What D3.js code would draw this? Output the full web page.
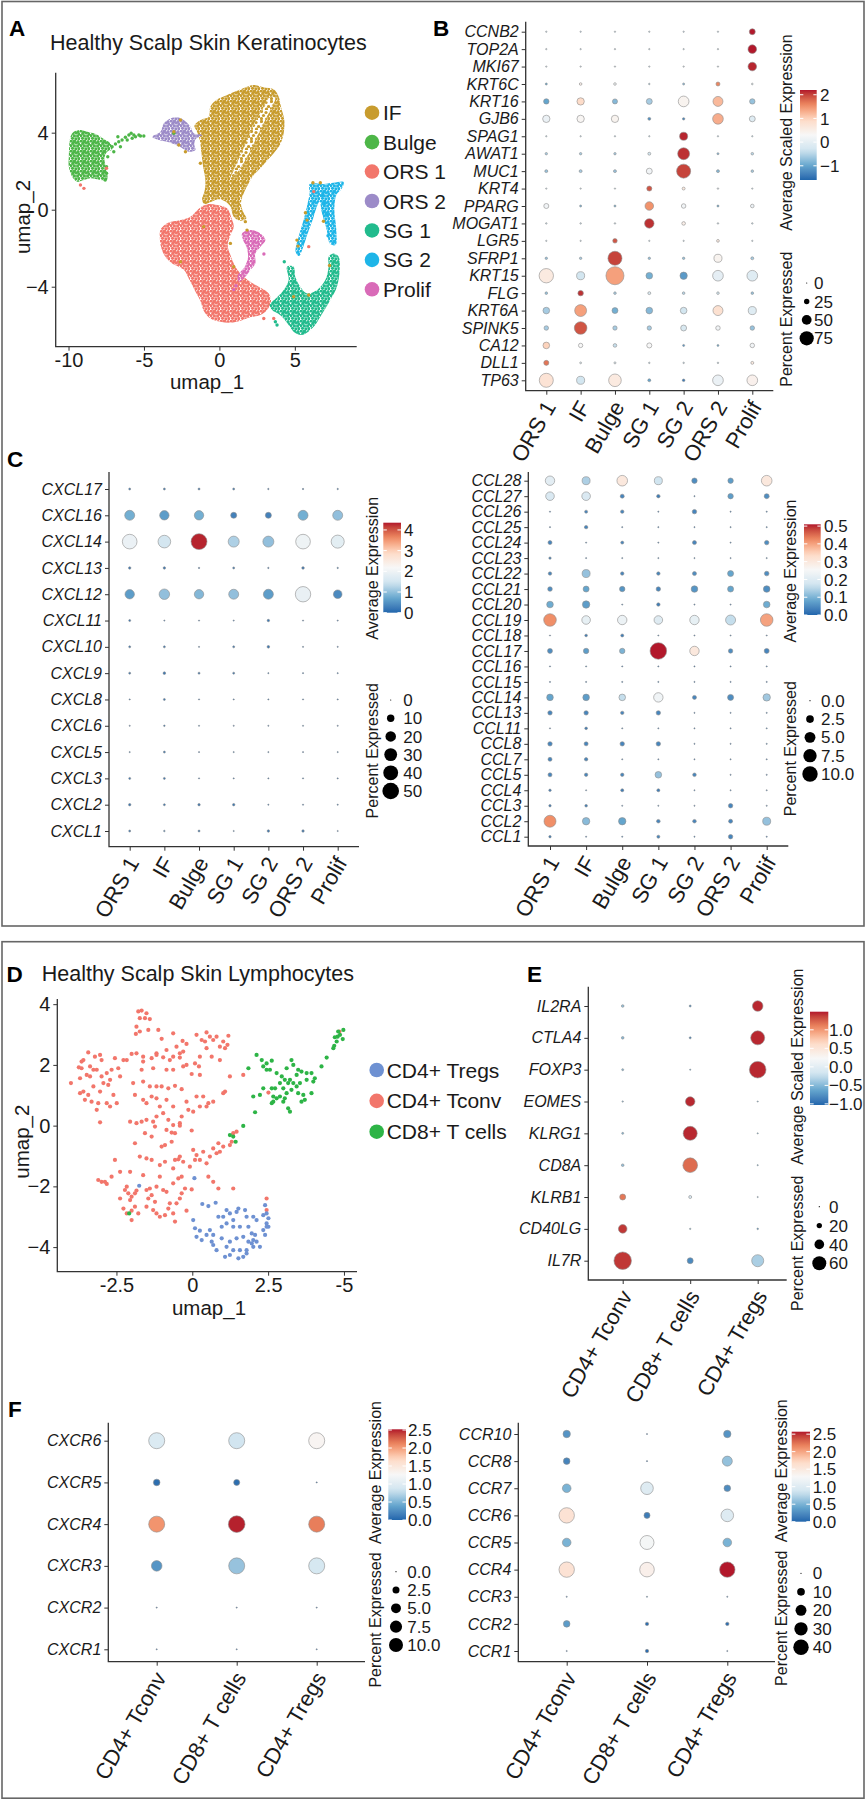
<!DOCTYPE html>
<html lang="en">
<head>
<meta charset="utf-8">
<title>Healthy scalp skin keratinocytes and lymphocytes</title>
<script src="https://d3js.org/d3.v7.min.js"></script>
<style>
  body { margin: 0; background: #fff; }
  svg text { font-family: "Liberation Sans", Arial, sans-serif; }
</style>
</head>
<body>
<script>
// ---------- DATA ----------
// keratinocyte clusters
const kerLegend = ["IF", "Bulge", "ORS 1", "ORS 2", "SG 1", "SG 2", "Prolif"];
const kerGroups = ["ORS 1", "IF", "Bulge", "SG 1", "SG 2", "ORS 2", "Prolif"];
const lymLegend = ["CD4+ Tregs", "CD4+ Tconv", "CD8+ T cells"];
const lymGroups = ["CD4+ Tconv", "CD8+ T cells", "CD4+ Tregs"];

// UMAP tick values / labels
const umapAxTicksX = [-10, -5, 0, 5];
const umapAxTicksY = [-4, 0, 4];
const umapDxTicks = [-2.5, 0, 2.5, 5];
const umapDxLabels = ["-2.5", "0", "2.5", "-5"];
const umapDyTicks = [-4, -2, 0, 2, 4];

// panel A: cluster outlines (umap units) for the dense regions
const ors1Hull = [[-3.91,-1.06],[-3.47,-0.71],[-2.58,-0.54],[-1.92,-0.36],[-1.26,0.12],[-0.71,0.29],[-0.15,0.24],[0.51,0.07],[0.77,-0.36],[0.95,-0.88],[0.73,-1.32],[0.55,-1.84],[0.73,-2.35],[1.06,-2.96],[1.43,-3.34],[1.94,-3.69],[2.60,-4.00],[3.27,-4.35],[3.42,-4.78],[3.16,-5.21],[2.72,-5.47],[2.05,-5.59],[1.39,-5.77],[0.73,-5.87],[0.07,-5.82],[-0.60,-5.65],[-1.04,-5.25],[-1.26,-4.73],[-1.52,-4.35],[-1.77,-3.97],[-2.03,-3.57],[-2.30,-3.17],[-2.69,-2.96],[-3.13,-2.79],[-3.58,-2.44],[-3.86,-1.96],[-3.95,-1.44]];
const ifHull = [[1.83,6.39],[2.27,6.48],[2.94,6.36],[3.60,6.25],[3.93,5.87],[4.08,5.35],[4.30,4.66],[4.26,3.97],[4.04,3.41],[3.60,2.93],[3.16,2.55],[2.72,2.15],[2.27,1.80],[1.94,1.37],[1.61,0.85],[1.43,0.33],[1.57,-0.10],[1.79,-0.45],[1.39,-0.57],[0.95,-0.36],[0.73,0.16],[0.40,0.42],[-0.04,0.54],[-0.49,0.42],[-0.99,0.29],[-1.15,0.54],[-0.99,0.94],[-0.93,1.54],[-1.08,2.23],[-1.19,2.93],[-1.30,3.62],[-1.48,4.05],[-1.66,4.35],[-1.26,4.66],[-0.71,4.83],[-0.60,5.35],[-0.20,5.70],[0.51,5.96],[1.17,6.18]];
const ifChannel = [[3.35,5.85],[2.95,5.35],[2.35,4.55],[1.85,3.65],[1.35,2.75],[0.95,2.05],[0.75,1.65],[1.3,2.05],[1.95,2.9],[2.5,3.8],[3.0,4.6],[3.45,5.3],[3.7,5.8]];
const bulgeHull = [[-9.98,2.75],[-9.87,3.79],[-9.65,4.05],[-9.21,4.14],[-8.76,4.05],[-8.32,3.97],[-7.88,3.79],[-7.55,3.62],[-7.22,3.45],[-7.11,3.13],[-7.44,3.01],[-7.62,2.67],[-7.48,2.06],[-7.44,1.54],[-7.88,1.54],[-8.54,1.63],[-8.98,1.54],[-9.43,1.45],[-9.76,1.71],[-9.98,2.23]];
const ors2Hull = [[-4.46,3.79],[-3.91,4.05],[-3.69,4.48],[-3.25,4.74],[-2.80,4.80],[-2.36,4.66],[-1.92,4.31],[-1.70,3.97],[-1.15,3.88],[-1.59,3.65],[-1.66,3.36],[-1.59,3.10],[-2.03,3.01],[-2.47,3.19],[-3.02,3.41],[-3.47,3.53],[-4.13,3.65]];
const sg1Hull = [[4.48,-2.96],[4.92,-2.96],[5.03,-3.48],[5.36,-4.00],[5.81,-4.35],[6.47,-4.17],[7.02,-3.65],[7.24,-2.96],[7.24,-2.44],[7.57,-2.27],[7.90,-2.44],[7.97,-3.13],[7.79,-4.00],[7.35,-4.69],[6.69,-5.56],[6.25,-6.08],[5.47,-6.51],[4.92,-6.34],[4.59,-5.99],[4.26,-5.65],[3.93,-5.42],[3.49,-5.21],[3.33,-4.95],[3.82,-4.55],[4.26,-4.17],[4.59,-3.65]];
const sg2Hull = [[5.98,1.34],[6.91,1.34],[7.57,1.40],[8.23,1.44],[8.12,1.11],[7.75,0.76],[7.62,-0.02],[7.75,-1.05],[7.70,-1.83],[7.35,-1.78],[7.09,-0.97],[6.80,-0.19],[6.64,0.42],[6.42,0.07],[6.18,-0.54],[5.85,-1.23],[5.52,-2.01],[5.28,-2.41],[5.05,-2.18],[5.25,-1.40],[5.58,-0.54],[5.85,0.33],[5.98,0.85]];
const prolifHull = [[1.50,-1.23],[2.05,-1.05],[2.72,-1.23],[3.05,-1.57],[2.72,-1.92],[2.38,-2.27],[2.38,-2.79],[2.05,-3.13],[1.72,-3.48],[1.28,-3.74],[1.21,-3.44],[1.68,-2.96],[1.90,-2.44],[1.79,-1.92],[1.57,-1.57]];

// panel A: sparse cells outside the dense regions
const bulgePts = [[-7.11,3.27],[-6.89,3.41],[-6.67,3.53],[-6.73,3.79],[-6.45,3.62],[-6.23,3.76],[-6.00,3.88],[-5.85,3.97],[-5.67,3.88],[-5.56,3.79],[-5.34,3.88],[-5.23,3.83],[-5.01,3.83],[-6.11,3.62],[-5.78,3.71],[-6.56,3.27],[-7.00,3.01],[-7.40,2.75],[-7.48,2.23],[-7.48,1.89],[-7.57,1.54],[-3.02,3.97]];
const ors1Pts = [[-9.21,1.28],[-8.98,1.11],[-7.48,2.15],[6.25,0.94],[5.92,-1.92],[2.94,-5.65],[3.60,-5.65]];
const ifPts = [[6.69,1.40],[6.20,1.40],[5.70,-0.16],[5.81,-0.54],[5.14,-1.58],[5.21,-1.89],[-1.04,-0.88],[-2.58,-2.70],[0.95,-2.96],[0.73,-1.75],[1.72,-0.62],[1.83,-1.06],[4.92,-4.52],[5.92,-4.43],[-1.26,2.41],[-2.58,4.66],[-2.69,3.36],[-2.25,3.01],[-3.02,4.05],[6.90,-0.60],[7.30,-2.90]];
const sg1Pts = [[3.71,-5.82],[3.82,-5.99],[4.30,-2.70]];
const sg2Pts = [[6.95,0.30],[7.10,-0.25],[7.20,-1.35],[6.85,0.75]];
const prolifPts = [[1.10,-3.95],[0.95,-4.15],[2.95,-2.30]];

// panel D cells (umap units)
const tconvPts = [[-4.00,1.40],[-3.74,1.92],[-3.65,2.11],[-3.70,1.56],[-3.59,2.16],[-3.43,2.41],[-3.21,2.27],[-3.04,2.33],[-2.99,2.16],[-3.15,1.84],[-3.37,1.95],[-3.48,1.67],[-3.70,1.07],[-3.54,0.85],[-3.43,1.01],[-3.26,1.29],[-3.04,1.12],[-3.10,0.74],[-3.15,0.52],[-3.04,0.11],[-2.93,1.40],[-2.77,1.34],[-2.71,1.51],[-2.99,1.62],[-2.66,1.84],[-2.60,1.01],[-2.49,0.74],[-2.82,0.74],[-2.71,0.63],[-2.55,2.22],[-2.27,2.16],[-2.38,1.62],[-2.44,1.89],[-3.32,0.79],[-3.59,1.12],[-3.65,1.89],[-3.37,1.62],[-2.82,1.73],[-3.26,1.84],
[-1.78,3.76],[-1.67,3.79],[-1.51,3.70],[-1.73,3.54],[-1.56,3.54],[-1.84,3.26],[-1.73,3.10],[-1.86,3.02],[-1.40,3.51],[-1.45,3.15],[-1.12,3.15],[-1.01,2.86],[-0.63,3.04],[-0.32,2.79],[-0.19,2.69],[-1.18,2.38],[-0.85,2.49],[-0.63,2.27],[-0.41,2.38],[-0.30,2.44],[-0.52,2.60],
[0.14,2.99],[0.31,2.82],[0.42,2.77],[0.47,3.07],[0.58,2.93],[0.69,2.82],[0.80,2.93],[0.91,2.60],[1.02,2.77],[1.19,2.96],[1.08,2.55],[1.16,2.66],[0.47,2.55],[0.64,2.27],[0.25,2.27],[0.22,1.95],[0.09,2.05],[-0.19,2.00],[-0.02,1.70],[0.25,1.67],[1.24,1.62],[0.91,2.16],
[-2.16,2.16],[-2.00,2.36],[-1.84,2.38],[-1.62,2.27],[-1.34,2.22],[-1.18,2.33],[-0.96,2.25],[-0.74,2.16],[-0.41,2.24],[-1.62,2.11],[-1.67,1.84],[-1.29,1.89],[-0.85,1.84],[-0.63,1.84],[-0.30,1.95],[-1.95,1.40],[-1.89,1.01],[-1.62,1.45],[-1.40,1.29],[-1.18,1.29],[-1.01,1.29],[-0.79,1.23],[-0.57,1.31],[-0.35,1.20],[-1.62,0.85],[-1.51,0.74],[-1.34,0.96],[-1.18,0.90],[-1.07,0.63],[-0.85,0.85],[-0.63,0.63],[-0.19,0.79],[0.14,0.96],[0.25,0.63],[0.47,0.63],[0.53,0.74],[0.36,0.96],[0.69,0.79],[0.03,0.46],[-0.13,0.52],[-0.35,0.30],[-0.41,0.08],[-0.63,0.02],[-0.79,0.19],[-0.96,0.41],[-1.18,0.30],[-1.29,0.13],[-1.51,0.19],[-1.67,0.13],[-1.84,0.08],[-2.05,0.13],[-1.23,-0.03],[-0.85,-0.14],[-0.68,-0.23],[-0.57,-0.25],[-0.41,0.00],[-0.02,-0.16],[-1.56,-0.25],[-1.34,-0.36],[-1.01,-0.69],[-0.90,-0.64],[-0.68,-0.53],[-1.89,-0.58],[-1.73,-1.02],[-1.51,-1.08],[-1.34,-1.13],[-1.07,-1.30],[-0.90,-1.19],[-0.57,-1.13],[-0.46,-1.11],[-0.41,-1.02],[0.03,-0.80],[0.36,-0.86],[0.58,-1.02],[0.80,-0.91],[0.91,-0.86],[1.02,-0.69],[1.24,-0.64],[1.30,-0.53],[0.86,-0.58],[0.69,-0.75],[0.25,-1.13],[0.47,-1.24],[0.14,-0.97],[-0.63,-1.41],[0.09,-1.13],[1.68,1.67],[1.02,1.07],[1.08,1.12],
[-2.55,-1.13],[-3.10,-1.79],[-2.99,-1.85],[-2.88,-1.85],[-2.82,-1.92],[-2.66,-1.68],[-2.38,-1.52],[-2.05,-1.52],[-1.62,-1.63],[-2.38,-2.40],[-2.22,-2.12],[-2.16,-2.01],[-2.11,-2.23],[-2.05,-2.45],[-2.00,-2.34],[-1.89,-2.23],[-1.84,-2.14],[-2.27,-2.73],[-2.16,-2.89],[-2.00,-2.80],[-1.89,-2.67],[-2.00,-3.11],[-1.78,-2.89],[-1.51,-2.12],[-1.40,-2.07],[-1.45,-2.40],[-1.51,-2.67],[-1.29,-2.78],[-1.18,-2.89],[-1.23,-2.51],[-0.96,-2.12],[-0.85,-2.18],[-0.74,-2.56],[-0.79,-2.73],[-1.07,-3.00],[-0.90,-2.95],[-0.57,-3.16],[-0.63,-2.89],[-0.52,-2.56],[-0.41,-2.40],[-0.35,-2.23],[-0.24,-2.07],[-0.63,-1.90],[-0.46,-1.74],[-0.35,-1.68],[-1.07,-1.68],[-1.18,-2.01],[-1.34,-2.29],[-0.19,-2.80],[-0.02,-2.10],[0.53,-1.68],[0.69,-1.85],[0.86,-2.07],[1.35,-2.07],[2.45,-2.40],[2.45,-2.78],[-0.08,-1.35],[-0.30,-1.19],
[1.35,-0.25],[1.46,-0.20],[2.51,1.09],[4.85,3.10]];
const cd8Pts = [[2.12,2.33],[2.29,2.16],[2.34,1.95],[2.45,2.05],[2.62,2.14],[2.56,1.84],[2.78,1.73],[2.95,1.62],[3.11,1.89],[3.27,2.16],[3.33,2.00],[3.49,1.84],[3.60,1.78],[3.77,1.73],[3.93,1.73],[4.04,1.56],[3.99,1.45],[3.77,1.51],[3.55,1.40],[3.44,1.29],[3.33,1.40],[3.22,1.51],[3.05,1.51],[2.89,1.40],[2.73,1.23],[2.62,1.23],[2.34,1.23],[2.01,0.96],[2.23,1.01],[2.67,0.96],[2.78,0.90],[2.89,0.96],[3.05,0.90],[3.11,1.07],[3.27,1.18],[3.49,1.07],[3.66,1.01],[3.71,0.85],[3.60,0.79],[3.93,1.07],[2.67,0.79],[2.62,0.74],[3.00,0.79],[3.16,0.57],[3.22,0.46],[1.85,1.89],[2.07,0.44],[1.68,-0.01],[1.43,-0.53],[1.24,-0.31],[1.35,-0.36],[4.26,1.95],[4.43,2.24],[4.65,2.55],[4.68,2.63],[4.76,2.77],[4.79,2.93],[4.81,3.10],[4.87,2.99],[4.98,3.15],[4.96,2.85],[4.70,2.91],[-2.08,-2.89],[2.45,1.84],[3.00,1.23],[3.16,1.40],[3.44,1.67]];
const tregPts = [[-1.75,-1.98],[0.07,-1.73],[0.33,-2.58],[0.53,-2.65],[0.77,-2.54],[0.86,-3.00],[1.02,-3.00],[1.13,-2.78],[1.24,-2.89],[1.35,-3.11],[1.46,-2.84],[1.52,-2.73],[1.74,-2.78],[1.79,-3.00],[2.01,-3.00],[2.12,-3.11],[2.34,-2.95],[2.40,-2.62],[2.45,-2.89],[2.51,-3.05],[0.09,-3.38],[0.14,-3.66],[0.58,-3.44],[0.69,-3.60],[0.97,-3.33],[1.13,-3.22],[1.35,-3.33],[1.57,-3.33],[1.85,-3.33],[1.96,-3.55],[2.07,-3.60],[2.34,-3.44],[2.45,-3.33],[0.64,-3.82],[0.69,-3.93],[0.97,-3.71],[1.24,-3.82],[1.46,-3.71],[1.68,-3.66],[1.85,-3.82],[2.01,-3.77],[2.01,-3.99],[2.23,-3.99],[0.80,-4.10],[1.13,-3.99],[1.35,-4.10],[1.57,-4.10],[1.79,-4.21],[1.08,-4.32],[1.24,-4.26],[1.52,-4.37],[1.68,-4.32],[1.79,-4.10],[1.96,-3.88],[2.12,-3.82],[0.31,-3.77],[0.47,-3.60],[0.25,-3.46],[0.03,-3.11],[2.45,-3.22],[2.51,-3.33],[2.40,-3.60]];

// panel B: marker genes (percent expressed, average scaled expression)
const bGenes = ["CCNB2","TOP2A","MKI67","KRT6C","KRT16","GJB6","SPAG1","AWAT1","MUC1","KRT4","PPARG","MOGAT1","LGR5","SFRP1","KRT15","FLG","KRT6A","SPINK5","CA12","DLL1","TP63"];
const bPct = [[2,2,2,2,2,2,28],[2,2,2,2,2,2,43],[2,2,2,2,2,2,43],[6,9,9,3,6,17,4],[25,36,23,28,55,51,25],[36,36,36,11,8,55,28],[2,2,2,2,40,2,2],[8,8,8,11,62,6,9],[11,11,11,28,74,11,9],[2,2,2,23,11,3,2],[23,6,6,43,20,6,15],[3,3,3,48,15,3,3],[2,2,20,2,2,10,2],[8,8,74,8,8,40,11],[76,40,97,32,36,55,55],[9,25,9,11,9,9,9],[32,62,28,32,32,51,40],[20,66,19,19,28,20,20],[32,19,15,23,6,5,20],[23,5,6,3,3,3,11],[74,40,66,11,9,55,55]];
const bAvg = [[-0.4,-0.4,-0.4,-0.4,-0.4,-0.4,2.2],[-0.4,-0.4,-0.4,-0.4,-0.4,-0.4,2.2],[-0.4,-0.4,-0.4,-0.4,-0.4,-0.4,2.15],[-1.0,0.5,0.2,-0.6,-0.8,1.6,-0.2],[-1.0,0.9,-0.8,-0.6,0.4,1.2,-0.7],[0.1,0.35,0.4,-1.2,-1.3,1.3,-0.1],[-0.4,-0.4,-0.4,-0.4,2.15,-0.4,-0.4],[-0.6,-0.6,-0.6,-0.3,2.1,-0.8,-0.5],[-0.7,-0.6,-0.7,0.2,2.0,-0.8,-0.6],[-0.4,-0.4,-0.4,1.9,0.6,-0.2,-0.4],[0.2,-0.9,-0.9,1.5,0.2,-1.0,0.1],[-0.4,-0.4,-0.4,2.1,0.5,-0.4,-0.4],[-0.4,-0.4,1.9,-0.4,-0.4,0.6,-0.4],[-0.7,-0.6,2.0,-0.7,-0.7,0.4,-0.6],[0.6,-0.3,1.4,-0.9,-1.1,0.0,-0.1],[-0.7,2.1,-0.6,-0.2,-0.5,-0.3,-0.7],[-0.6,1.4,-0.9,-0.8,-0.3,0.8,-0.1],[-0.6,1.9,-0.6,-0.6,-0.2,0.2,-0.7],[1.0,0.3,-0.4,0.3,-1.1,-1.0,0.2],[1.7,-0.2,-0.2,-0.4,-0.4,-0.4,0.6],[0.75,-0.3,0.6,-1.0,-1.4,0.1,0.45]];

// panel C left: CXCL chemokines
const cxclGenes = ["CXCL17","CXCL16","CXCL14","CXCL13","CXCL12","CXCL11","CXCL10","CXCL9","CXCL8","CXCL6","CXCL5","CXCL3","CXCL2","CXCL1"];
const cxclPct = [[0.73,0.73,0.73,0.73,0.36,0.36,0.36],[18,16,16,6.5,6.5,18,18],[39,29,46,22,22,39,31],[1.05,1.05,0.36,0.73,0.36,1.2,0.36],[16,20,16,18,18,43,13.4],[0.73,0.26,0.26,0.26,1.05,0.26,0.26],[0.73,0.73,0.26,0.73,1.2,0.26,0.26],[0.73,1.2,0.73,0.73,0.26,0.26,0.26],[0.26,0.73,0.26,0.26,0.26,0.26,0.26],[0.26,0.46,0.26,0.26,0.26,0.26,0.26],[0.26,0.73,0.26,0.26,0.26,0.26,0.26],[0.73,0.73,0.26,0.26,0.26,0.26,0.26],[1.05,0.73,1.05,1.05,0.26,0.26,0.26],[0.73,0.46,0.73,0.26,1.05,1.05,0.26]];
const cxclAvg = [[0.2,0.2,0.2,0.2,0.1,0.1,0.1],[0.8,0.6,0.8,0.3,0.3,0.8,1.0],[1.95,1.5,4.3,1.2,1.0,2.0,1.8],[0.2,0.2,0.1,0.2,0.1,0.2,0.1],[0.6,1.0,0.9,1.0,0.6,1.9,0.4],[0.2,0.1,0.1,0.1,0.2,0.1,0.1],[0.2,0.2,0.1,0.2,0.2,0.1,0.1],[0.2,0.2,0.2,0.2,0.1,0.1,0.1],[0.1,0.2,0.1,0.1,0.1,0.1,0.1],[0.1,0.1,0.1,0.1,0.1,0.1,0.1],[0.1,0.2,0.1,0.1,0.1,0.1,0.1],[0.2,0.2,0.1,0.1,0.1,0.1,0.1],[0.2,0.2,0.2,0.2,0.1,0.1,0.1],[0.2,0.2,0.2,0.1,0.2,0.2,0.1]];

// panel C right: CCL chemokines
const cclGenes = ["CCL28","CCL27","CCL26","CCL25","CCL24","CCL23","CCL22","CCL21","CCL20","CCL19","CCL18","CCL17","CCL16","CCL15","CCL14","CCL13","CCL11","CCL8","CCL7","CCL5","CCL4","CCL3","CCL2","CCL1"];
const cclPct = [[3.73,2.7,4.74,2.7,1.23,1.23,4.74],[3.12,3.12,0.67,0.49,0.06,1.23,1.05],[0.06,0.38,0.49,0.06,0.82,0.06,0.06],[0.06,0.49,0.06,0.06,0.06,0.06,0.06],[0.67,0.06,0.38,0.06,0.67,0.06,0.82],[0.24,0.06,0.06,0.06,0.06,0.06,0.06],[0.49,2.7,0.49,0.49,0.67,1.52,0.89],[0.89,1.52,1.23,0.82,1.84,1.52,1.84],[1.84,2.31,0.06,0.49,0.06,0.06,1.84],[6.69,3.12,3.73,3.12,3.73,4.22,6.69],[0.06,0.29,0.38,0.06,0.06,0.06,0.06],[1.05,1.23,1.23,11.6,3.73,0.82,1.05],[0.06,0.06,0.06,0.06,0.06,0.06,0.06],[0.06,0.06,0.06,0.06,0.06,0.06,0.06],[1.84,1.84,1.84,3.73,0.67,1.52,2.31],[0.82,0.82,0.49,0.82,0.06,0.06,0.06],[0.06,0.29,0.06,0.06,0.06,0.06,0.06],[0.82,0.67,0.82,0.82,0.06,0.06,0.06],[0.67,0.49,0.06,0.06,0.06,0.06,0.06],[0.67,0.49,0.49,1.84,0.55,0.06,0.06],[0.24,0.06,0.38,0.38,0.06,0.06,0.06],[0.24,0.29,0.06,0.06,0.06,0.82,0.06],[6.07,2.31,2.31,0.55,0.55,0.67,2.7],[0.24,0.06,0.06,0.38,0.06,0.82,0.06]];
const cclAvg = [[0.21,0.14,0.3,0.17,0.05,0.07,0.3],[0.19,0.19,0.04,0.03,0.02,0.07,0.05],[0.02,0.04,0.04,0.02,0.04,0.02,0.02],[0.02,0.04,0.02,0.02,0.02,0.02,0.02],[0.04,0.02,0.04,0.02,0.04,0.02,0.05],[0.03,0.02,0.02,0.02,0.02,0.02,0.02],[0.04,0.12,0.04,0.04,0.05,0.08,0.05],[0.05,0.08,0.06,0.04,0.06,0.08,0.05],[0.09,0.07,0.02,0.03,0.02,0.02,0.09],[0.42,0.22,0.23,0.2,0.22,0.16,0.4],[0.02,0.03,0.03,0.02,0.02,0.02,0.02],[0.05,0.07,0.1,0.51,0.3,0.05,0.04],[0.02,0.02,0.02,0.02,0.02,0.02,0.02],[0.02,0.02,0.02,0.02,0.02,0.02,0.02],[0.08,0.07,0.16,0.24,0.04,0.05,0.13],[0.04,0.04,0.04,0.04,0.02,0.02,0.02],[0.02,0.03,0.02,0.02,0.02,0.02,0.02],[0.04,0.04,0.04,0.04,0.02,0.02,0.02],[0.04,0.04,0.02,0.02,0.02,0.02,0.02],[0.04,0.04,0.04,0.12,0.04,0.02,0.02],[0.03,0.02,0.03,0.03,0.02,0.02,0.02],[0.03,0.03,0.02,0.02,0.02,0.04,0.02],[0.42,0.11,0.08,0.04,0.04,0.04,0.12],[0.03,0.02,0.02,0.04,0.02,0.04,0.02]];

// panel E: lymphocyte markers
const eGenes = ["IL2RA","CTLA4","FOXP3","EOMES","KLRG1","CD8A","KLRB1","CD40LG","IL7R"];
const ePct = [[7.4,4.6,44],[7.4,4.6,60],[4.6,0.9,72],[1.8,39,0],[4.6,60,0.9],[7.4,63,0.9],[23,9.2,0.9],[35,1.8,2.8],[76,23,51]];
const eAvg = [[-0.45,-0.8,1.45],[-0.5,-0.85,1.45],[-0.5,-0.7,1.45],[-0.5,1.45,-0.6],[-0.5,1.45,-0.6],[-0.45,1.2,-0.6],[1.15,-0.1,-0.5],[1.4,-0.6,-0.7],[1.4,-0.8,-0.35]];

// panel F: chemokine receptors
const cxcrGenes = ["CXCR6","CXCR5","CXCR4","CXCR3","CXCR2","CXCR1"];
const cxcrPct = [[13.1,13.1,13.1],[2.2,1.84,0.05],[13.1,14.1,13.1],[5.7,13.1,13.1],[0.05,0.05,0.05],[0.05,0.05,0.05]];
const cxcrAvg = [[0.95,0.85,1.3],[0.05,0.05,0.05],[2.05,2.5,2.15],[0.3,0.6,0.9],[0.05,0.05,0.05],[0.05,0.05,0.05]];
const ccrGenes = ["CCR10","CCR8","CCR7","CCR6","CCR5","CCR4","CCR3","CCR2","CCR1"];
const ccrPct = [[9.2,0.17,9.2],[7.3,0.17,16.9],[12.5,26.8,7.3],[40,6.1,26.8],[12.5,33,12.5],[40,36,40],[0.17,0.17,0.17],[7.3,1.95,1.95],[0.17,1.95,0.17]];
const ccrAvg = [[0.3,0.05,0.3],[0.2,0.05,0.6],[0.5,1.0,0.25],[1.6,0.15,1.0],[0.5,1.25,0.5],[1.6,1.4,2.57],[0.05,0.05,0.05],[0.35,0.05,0.05],[0.05,0.05,0.05]];

// legend values
const bSizeVals = [0, 25, 50, 75];
const cxclSizeVals = [0, 10, 20, 30, 40, 50];
const cclSizeVals = [0, 2.5, 5, 7.5, 10];
const eSizeVals = [0, 20, 40, 60];
const cxcrSizeVals = [0, 2.5, 5, 7.5, 10];
const ccrSizeVals = [0, 10, 20, 30, 40];

// ---------- STYLE ----------
const kerColor = {"IF":"#C89C2E","Bulge":"#4DB648","ORS 1":"#F2766B","ORS 2":"#9C8BC8","SG 1":"#22BB8D","SG 2":"#1EB5E8","Prolif":"#D96BB8"};
const lymColor = {"CD4+ Tregs":"#6E91D2","CD4+ Tconv":"#F2766B","CD8+ T cells":"#2DB446"};
const rdbu = ["#2166AC","#67A9CF","#D1E5F0","#F7F7F7","#FDDBC7","#EF8A62","#B2182B"];
const ink = "#1a1a1a";

const svg = d3.select("body").append("svg").attr("width", 866).attr("height", 1800);
const defs = svg.append("defs");
svg.append("rect").attr("width", 866).attr("height", 1800).attr("fill", "#fff");

// frames
svg.append("rect").attr("x", 2).attr("y", 1.5).attr("width", 862).attr("height", 924.5)
  .attr("fill", "none").attr("stroke", "#666").attr("stroke-width", 1.6);
svg.append("rect").attr("x", 2).attr("y", 941.7).attr("width", 862).attr("height", 856.5)
  .attr("fill", "none").attr("stroke", "#666").attr("stroke-width", 1.6);

// panel letters
[["A", 9, 36], ["B", 433, 36], ["C", 7, 466.7], ["D", 6.5, 981.7], ["E", 527, 981.7], ["F", 8, 1416.7]]
  .forEach(([t, x, y]) => svg.append("text").attr("x", x).attr("y", y).text(t)
    .attr("font-size", 22.5).attr("font-weight", "bold").attr("fill", "#000"));

function colorScale(lo, hi) {
  return d3.scaleLinear().domain(d3.range(7).map(i => lo + i * (hi - lo) / 6))
    .range(rdbu).interpolate(d3.interpolateLab).clamp(true);
}
const minus = s => String(s).replace("-", "\u2212");

// ---------- UMAP helper ----------
function umapAxes(x, y, o) {
  const g = svg.append("g");
  const ya = g.append("g").attr("transform", `translate(${o.x0},0)`)
    .call(d3.axisLeft(y).tickValues(o.yt).tickSize(4).tickPadding(3));
  const xa = g.append("g").attr("transform", `translate(0,${o.y0})`)
    .call(d3.axisBottom(x).tickValues(o.xt).tickSize(4).tickPadding(2).tickFormat((d, i) => o.xl ? o.xl[i] : d));
  [ya, xa].forEach(a => {
    a.select(".domain").remove();
    a.selectAll("text").attr("font-size", 20).attr("fill", ink);
    a.selectAll("line").attr("stroke", "#333");
  });
  g.append("path").attr("d", `M${o.x0},${o.top}V${o.y0}H${o.right}`)
    .attr("fill", "none").attr("stroke", "#333").attr("stroke-width", 1.3);
  g.append("text").attr("x", o.lx).attr("y", o.ly).attr("text-anchor", "middle")
    .attr("font-size", 20.5).attr("fill", ink).text("umap_1");
  g.append("text").attr("transform", `translate(${o.tx},${o.ty}) rotate(-90)`).attr("text-anchor", "middle")
    .attr("font-size", 20.5).attr("fill", ink).text("umap_2");
}

// ---------- PANEL A ----------
const xA = d3.scaleLinear().domain([-10.85, 9.1]).range([55.7, 356.7]);
const yA = d3.scaleLinear().domain([-7.1, 7.1]).range([346.4, 73]);
svg.append("text").attr("x", 50).attr("y", 50).attr("font-size", 21.5).attr("fill", ink)
  .text("Healthy Scalp Skin Keratinocytes");
umapAxes(xA, yA, {x0: 55.7, y0: 346.7, top: 72.7, right: 356.7, xt: umapAxTicksX, yt: umapAxTicksY,
  lx: 207, ly: 389, tx: 29.5, ty: 217});

// speckled fills standing in for the dense point clouds
const tile = [[1.2,1.0],[4.6,0.8],[8.1,1.6],[2.8,3.4],[6.4,3.0],[9.4,4.2],[0.9,5.6],[4.4,5.9],[7.6,6.1],[2.5,8.3],[5.9,8.8],[9.0,8.6],[3.9,2.0]];
const tileSparse = [[1.5,1.5],[6.0,2.5],[3.5,5.5],[8.5,6.5],[1.5,8.5],[6.5,9.0]];
kerLegend.forEach((k, i) => {
  [["pat", tile], ["spa", tileSparse]].forEach(([pre, t]) => {
    const p = defs.append("pattern").attr("id", pre + i).attr("patternUnits", "userSpaceOnUse")
      .attr("width", 10).attr("height", 10);
    p.selectAll("circle").data(t).join("circle")
      .attr("cx", d => d[0]).attr("cy", d => d[1]).attr("r", 1.6).attr("fill", kerColor[k]);
  });
});
const hullLine = d3.line().x(d => xA(d[0])).y(d => yA(d[1])).curve(d3.curveCatmullRomClosed);
const hulls = [["ORS 1", ors1Hull], ["IF", ifHull], ["Bulge", bulgeHull], ["ORS 2", ors2Hull],
  ["SG 1", sg1Hull], ["SG 2", sg2Hull], ["Prolif", prolifHull]];
const gA = svg.append("g");
hulls.forEach(([k, h]) => {
  gA.append("path").attr("d", hullLine(h)).attr("fill", `url(#pat${kerLegend.indexOf(k)})`);
  if (k === "IF") {
    gA.append("path").attr("d", hullLine(ifChannel)).attr("fill", "#fff");
    gA.append("path").attr("d", hullLine(ifChannel)).attr("fill", "url(#spa0)");
  }
});
[["Bulge", bulgePts], ["ORS 1", ors1Pts], ["IF", ifPts], ["SG 1", sg1Pts], ["SG 2", sg2Pts], ["Prolif", prolifPts]]
  .forEach(([k, pts]) => {
    gA.append("g").selectAll("circle").data(pts).join("circle")
      .attr("cx", d => xA(d[0])).attr("cy", d => yA(d[1])).attr("r", 1.7).attr("fill", kerColor[k]);
  });
// legend A
const legA = d3.scalePoint().domain(kerLegend).range([112.7, 289.3]);
kerLegend.forEach(k => {
  svg.append("circle").attr("cx", 372).attr("cy", legA(k)).attr("r", 7.3).attr("fill", kerColor[k]);
  svg.append("text").attr("x", 383).attr("y", legA(k)).attr("dy", "0.36em").attr("font-size", 21)
    .attr("fill", ink).text(k);
});

// ---------- DOT PLOT HELPERS ----------
function dotPlot(p) {
  const y = d3.scalePoint().domain(p.genes).range(p.rows);
  const x = d3.scalePoint().domain(p.groups).range(p.cols);
  const g = svg.append("g");
  const ya = g.append("g").attr("transform", `translate(${p.ax},0)`)
    .call(d3.axisLeft(y).tickSize(4).tickPadding(3));
  ya.select(".domain").remove();
  ya.selectAll("text").attr("font-size", 16).attr("font-style", "italic").attr("fill", ink);
  const xa = g.append("g").attr("transform", `translate(0,${p.ay})`)
    .call(d3.axisBottom(x).tickSize(4));
  xa.select(".domain").remove();
  xa.selectAll("text").attr("font-size", 22).attr("fill", ink).attr("text-anchor", "end")
    .attr("x", 0).attr("y", 0).attr("dy", "0.72em").attr("transform", "translate(-4,8) rotate(-60)");
  g.selectAll(".tick line").attr("stroke", "#333");
  g.append("path").attr("d", `M${p.ax},${p.top}V${p.ay}H${p.right}`)
    .attr("fill", "none").attr("stroke", "#333").attr("stroke-width", 1.3);
  const cells = p.genes.flatMap((gene, i) => p.groups.map((grp, j) =>
    ({gene, grp, pct: p.pct[i][j], avg: p.avg[i][j]})));
  g.append("g").selectAll("circle").data(cells).join("circle")
    .attr("cx", d => x(d.grp)).attr("cy", d => y(d.gene))
    .attr("r", d => Math.max(0.6, p.r(d.pct)))
    .attr("fill", d => p.color(d.avg)).attr("stroke", "#8d8d8d").attr("stroke-width", 0.6);
}

let gradId = 0;
function colorBar(p) {
  const id = "grad" + (gradId++);
  const lg = defs.append("linearGradient").attr("id", id)
    .attr("x1", 0).attr("y1", 1).attr("x2", 0).attr("y2", 0);
  d3.range(21).forEach(i => lg.append("stop").attr("offset", i / 20)
    .attr("stop-color", p.color(p.lo + i / 20 * (p.hi - p.lo))));
  const y = d3.scaleLinear().domain([p.lo, p.hi]).range([p.y1, p.y0]);
  svg.append("rect").attr("x", p.x).attr("y", p.y0).attr("width", p.w).attr("height", p.y1 - p.y0)
    .attr("fill", `url(#${id})`);
  p.ticks.forEach(t => {
    [[p.x, p.x + p.w / 5], [p.x + p.w * 4 / 5, p.x + p.w]].forEach(([a, b]) =>
      svg.append("line").attr("x1", a).attr("x2", b).attr("y1", y(t)).attr("y2", y(t))
        .attr("stroke", "#fff").attr("stroke-width", 1));
    svg.append("text").attr("x", p.lx).attr("y", y(t)).attr("dy", "0.36em").attr("font-size", 17)
      .attr("fill", ink).text(minus(p.fmt(t)));
  });
}

function sizeLegend(p) {
  const y = d3.scalePoint().domain(p.values).range(p.ys);
  p.values.forEach(v => {
    svg.append("circle").attr("cx", p.cx).attr("cy", y(v)).attr("r", Math.max(0.6, p.r(v))).attr("fill", "#000");
    svg.append("text").attr("x", p.lx).attr("y", y(v)).attr("dy", "0.36em").attr("font-size", 17)
      .attr("fill", ink).text(p.fmt(v));
  });
}

function vTitle(t, x, cy) {
  svg.append("text").attr("transform", `translate(${x},${cy}) rotate(-90)`).attr("text-anchor", "middle")
    .attr("font-size", 16).attr("fill", ink).text(t);
}
const f1 = d3.format(".1f");
const f0 = d => String(d);

// ---------- PANEL B ----------
const rB = d3.scaleLinear().domain([0, 100]).range([0.5, 9.3]);
const cB = colorScale(-1.6, 2.2);
dotPlot({genes: bGenes, groups: kerGroups, pct: bPct, avg: bAvg, ax: 525.7, ay: 390.7, top: 21.7, right: 773.3,
  rows: [31.7, 380.3], cols: [546.3, 752.3], r: rB, color: cB});
colorBar({x: 800, w: 16.7, y0: 90, y1: 180, lo: -1.6, hi: 2.2, ticks: [-1, 0, 1, 2], fmt: f0, color: cB, lx: 820});
vTitle("Average Scaled Expression", 792.3, 132.5);
vTitle("Percent Expressed", 792.3, 319.2);
sizeLegend({cx: 806.7, lx: 814, values: bSizeVals, ys: [283, 338.3], r: rB, fmt: f0});

// ---------- PANEL C ----------
const rCx = d3.scaleSqrt().domain([0, 50]).range([0, 8.3]);
const cCx = colorScale(0, 4.35);
dotPlot({genes: cxclGenes, groups: kerGroups, pct: cxclPct, avg: cxclAvg, ax: 109, ay: 846.7, top: 472, right: 359,
  rows: [489, 831], cols: [129.7, 337.7], r: rCx, color: cCx});
colorBar({x: 383.3, w: 17.7, y0: 522.7, y1: 612.7, lo: 0, hi: 4.35, ticks: [0, 1, 2, 3, 4], fmt: f0, color: cCx, lx: 404});
vTitle("Average Expression", 377.7, 568.3);
vTitle("Percent Expressed", 377.7, 750.8);
sizeLegend({cx: 390.7, lx: 403.3, values: cxclSizeVals, ys: [700, 791], r: rCx, fmt: f0});

const rCc = d3.scaleSqrt().domain([0, 10]).range([0, 7.7]);
const cCc = colorScale(0, 0.51);
dotPlot({genes: cclGenes, groups: kerGroups, pct: cclPct, avg: cclAvg, ax: 528.3, ay: 846, top: 472, right: 788.3,
  rows: [480.7, 836.7], cols: [550, 766.7], r: rCc, color: cCc});
colorBar({x: 804, w: 16.7, y0: 524.3, y1: 615, lo: 0, hi: 0.51, ticks: [0, 0.1, 0.2, 0.3, 0.4, 0.5], fmt: f1, color: cCc, lx: 824});
vTitle("Average Expression", 795.7, 571);
vTitle("Percent Expressed", 795.7, 748.7);
sizeLegend({cx: 810, lx: 821, values: cclSizeVals, ys: [700.7, 774], r: rCc, fmt: f1});

// ---------- PANEL D ----------
const xD = d3.scaleLinear().domain([-4.45, 5.43]).range([57.3, 357]);
const yD = d3.scaleLinear().domain([-4.81, 4.17]).range([1271.7, 999]);
svg.append("text").attr("x", 41.7).attr("y", 980.7).attr("font-size", 21.5).attr("fill", ink)
  .text("Healthy Scalp Skin Lymphocytes");
umapAxes(xD, yD, {x0: 57.3, y0: 1271.7, top: 999, right: 357, xt: umapDxTicks, xl: umapDxLabels, yt: umapDyTicks,
  lx: 209, ly: 1315, tx: 28.5, ty: 1141.7});
const gD = svg.append("g");
[["CD4+ Tconv", tconvPts], ["CD8+ T cells", cd8Pts], ["CD4+ Tregs", tregPts]].forEach(([k, pts]) => {
  gD.append("g").selectAll("circle").data(pts).join("circle")
    .attr("cx", d => xD(d[0])).attr("cy", d => yD(d[1])).attr("r", 2.1).attr("fill", lymColor[k]);
});
const legD = d3.scalePoint().domain(lymLegend).range([1070, 1131.7]);
lymLegend.forEach(k => {
  svg.append("circle").attr("cx", 376.7).attr("cy", legD(k)).attr("r", 7.3).attr("fill", lymColor[k]);
  svg.append("text").attr("x", 386.7).attr("y", legD(k)).attr("dy", "0.36em").attr("font-size", 21)
    .attr("fill", ink).text(k);
});

// ---------- PANEL E ----------
const rE = d3.scaleLinear().domain([0, 60]).range([0.5, 7]);
const cE = colorScale(-1.03, 1.49);
dotPlot({genes: eGenes, groups: lymGroups, pct: ePct, avg: eAvg, ax: 588.3, ay: 1280, top: 986.7, right: 786.7,
  rows: [1006, 1260.7], cols: [622.7, 757.7], r: rE, color: cE});
colorBar({x: 810, w: 18.3, y0: 1011.7, y1: 1105, lo: -1.03, hi: 1.49, ticks: [-1, -0.5, 0, 0.5, 1], fmt: f1, color: cE, lx: 829});
vTitle("Average Scaled Expression", 803.3, 1066.7);
vTitle("Percent Expressed", 803.3, 1243.3);
sizeLegend({cx: 819.3, lx: 829, values: eSizeVals, ys: [1206.7, 1263.3], r: rE, fmt: f0});

// ---------- PANEL F ----------
const rF1 = d3.scaleSqrt().domain([0, 10]).range([0, 7]);
const cF1 = colorScale(0, 2.52);
dotPlot({genes: cxcrGenes, groups: lymGroups, pct: cxcrPct, avg: cxcrAvg, ax: 108.3, ay: 1661.7, top: 1422.7, right: 365,
  rows: [1440.7, 1649.3], cols: [156.7, 316.7], r: rF1, color: cF1});
colorBar({x: 388.3, w: 17.7, y0: 1429.3, y1: 1520, lo: 0, hi: 2.52, ticks: [0, 0.5, 1, 1.5, 2, 2.5], fmt: f1, color: cF1, lx: 408});
vTitle("Average Expression", 380.7, 1472.5);
vTitle("Percent Expressed", 380.7, 1620);
sizeLegend({cx: 396, lx: 407.3, values: cxcrSizeVals, ys: [1571.7, 1645], r: rF1, fmt: f1});

const rF2 = d3.scaleSqrt().domain([0, 40]).range([0, 7.7]);
const cF2 = colorScale(0, 2.57);
dotPlot({genes: ccrGenes, groups: lymGroups, pct: ccrPct, avg: ccrAvg, ax: 518.3, ay: 1661.7, top: 1422.7, right: 775,
  rows: [1434, 1651], cols: [566.7, 727.3], r: rF2, color: cF2});
colorBar({x: 791.7, w: 18.3, y0: 1431.7, y1: 1521.7, lo: 0, hi: 2.57, ticks: [0, 0.5, 1, 1.5, 2, 2.5], fmt: f1, color: cF2, lx: 812.7});
vTitle("Average Expression", 787.3, 1470.7);
vTitle("Percent Expressed", 787.3, 1618.3);
sizeLegend({cx: 801, lx: 812.7, values: ccrSizeVals, ys: [1573.3, 1647.3], r: rF2, fmt: f0});
</script>
</body>
</html>
